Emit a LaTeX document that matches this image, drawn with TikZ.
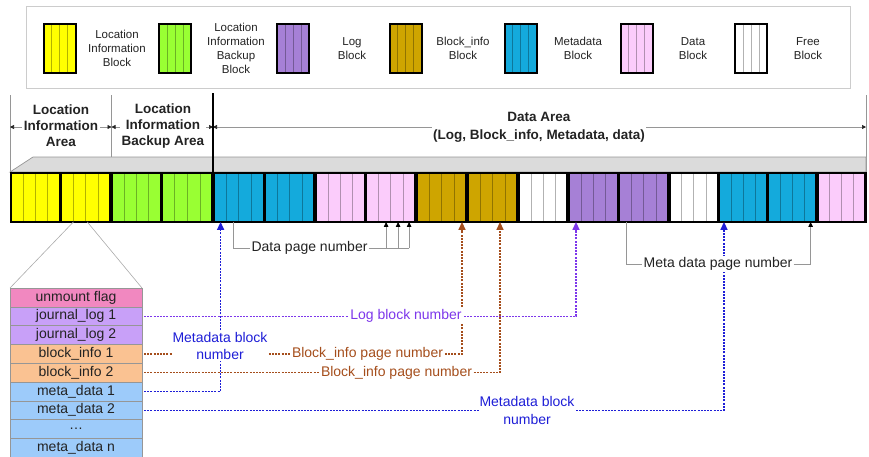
\documentclass[tikz,border=0pt]{standalone}
\usepackage{fontspec}
\setmainfont{Liberation Sans}
\usetikzlibrary{arrows.meta,calc}

% block colours
\definecolor{cYel}{RGB}{255,255,0}
\definecolor{cGrn}{RGB}{153,255,51}
\definecolor{cLog}{RGB}{166,128,214}
\definecolor{cBi}{RGB}{206,165,0}
\definecolor{cMeta}{RGB}{20,170,220}
\definecolor{cData}{RGB}{251,204,251}
\definecolor{cFree}{RGB}{255,255,255}
% table colours
\definecolor{tFlag}{RGB}{241,136,192}
\definecolor{tLog}{RGB}{200,160,248}
\definecolor{tBi}{RGB}{250,194,146}
\definecolor{tMeta}{RGB}{157,203,250}
% line colours
\definecolor{lnGray}{RGB}{150,150,150}
\definecolor{txGray}{RGB}{35,35,35}
\definecolor{lnViolet}{RGB}{125,55,235}
\definecolor{lnBrown}{RGB}{165,78,28}
\definecolor{lnBlue}{RGB}{30,30,215}

\tikzset{
  blk/.style={draw=black, line width=2.2pt, fill=#1, inner sep=0pt, outer sep=0pt,
    path picture={\foreach \k in {1,2,3}{\draw[line width=0.6pt,#1!70!black]
      ($(path picture bounding box.north west)!\k/4!(path picture bounding box.north east)$) --
      ($(path picture bounding box.south west)!\k/4!(path picture bounding box.south east)$);}}},
  lgt/.style={font=\fontsize{11.5}{14}\selectfont, align=center, text=txGray, inner sep=0pt},
  hdt/.style={font=\fontsize{13.5}{16}\selectfont\bfseries, align=center, fill=white,
    inner sep=1.5pt, text=txGray},
  hdr/.style={draw=lnGray, line width=0.7pt,
    {Triangle[length=4pt,width=4pt,color=txGray]}-{Triangle[length=4pt,width=4pt,color=txGray]}},
  row/.style={draw=lnGray, line width=0.6pt, fill=#1, minimum width=132pt,
    minimum height=18.8pt, inner sep=0pt, outer sep=0pt,
    font=\fontsize{14}{16}\selectfont, text=txGray},
  lbl/.style={font=\fontsize{14}{17.5}\selectfont, align=center, inner sep=1pt, fill=white},
  gline/.style={draw=lnGray, line width=0.7pt},
  gtip/.style={-{Triangle[length=5pt,width=4.5pt,color=black]}},
  dline/.style={line width=1.4pt, dash pattern=on 2pt off 1.2pt, shorten <=2pt,
    -{Triangle[length=8pt,width=7pt]}},
}

\begin{document}
\begin{tikzpicture}[x=1pt,y=-1pt]
\useasboundingbox (0,0) rectangle (869,456);

% ---------- legend ----------
\draw[draw=gray!40, line width=0.7pt] (26,6) rectangle (850,88);
\foreach \n/\x/\c/\tx/\t in {
   1/59.5/cYel/117/{Location\\Information\\Block},
   2/175/cGrn/236/{Location\\Information\\Backup\\Block},
   3/293/cLog/352/{Log\\Block},
   4/405.5/cBi/463/{Block\_info\\Block},
   5/520.5/cMeta/578/{Metadata\\Block},
   6/636.5/cData/693/{Data\\Block},
   7/751/cFree/808/{Free\\Block}}{
  \node[blk=\c, line width=2pt, minimum width=32pt, minimum height=49pt] (s\n) at (\x,48) {};
  \node[lgt] (lg\n) at (\tx,48.5) {\t};
}

% ---------- area header ----------
\draw[lnGray, line width=0.7pt] (10,95) -- (10,172);
\draw[lnGray, line width=0.7pt] (111.5,95) -- (111.5,172);
\draw[lnGray, line width=0.7pt] (866,95) -- (866,172);
\draw[hdr] (10,127) -- (111.5,127);
\draw[hdr] (111.5,127) -- (213,127);
\draw[hdr] (213,127) -- (866,127);
\node[hdt] (hA) at (61,126) {Location\\Information\\Area};
\node[hdt] (hB) at (163,126) {Location\\Information\\Backup Area};
\node[hdt, font=\fontsize{13.5}{18}\selectfont\bfseries] (hC) at (539,127)
  {Data Area\\(Log, Block\_info, Metadata, data)};

% top face of the block strip
\filldraw[fill=gray!28, draw=lnGray, line width=0.7pt]
  (10,172) -- (33,157) -- (866,157) -- (866,172) -- cycle;
\draw[line width=2.5pt] (213,93) -- (213,172);

% ---------- block strip ----------
\foreach \n/\l/\r/\c in {
   1/10/60.5/cYel, 2/60.5/111/cYel, 3/111/161.5/cGrn, 4/161.5/213/cGrn,
   5/213/264.5/cMeta, 6/264.5/315/cMeta, 7/315/365.5/cData, 8/365.5/416/cData,
   9/416/467/cBi, 10/467/518/cBi, 11/518/568/cFree, 12/568/618.5/cLog,
   13/618.5/669/cLog, 14/669/718.5/cFree, 15/718.5/767.5/cMeta,
   16/767.5/817/cMeta, 17/817/866/cData}{
  \node[blk=\c, minimum width={\r-\l-1.2}, minimum height=48.8pt] (b\n) at ({(\l+\r)/2},197.5) {};
}

% ---------- location information table ----------
\foreach \n/\c/\t [count=\i] in {
   flag/tFlag/{unmount flag}, j1/tLog/{journal\_log 1}, j2/tLog/{journal\_log 2},
   bi1/tBi/{block\_info 1}, bi2/tBi/{block\_info 2}, m1/tMeta/{meta\_data 1},
   m2/tMeta/{meta\_data 2}, dots/tMeta/{\dots}, mn/tMeta/{meta\_data n}}{
  \node[row=\c] (r\n) at (76,{288+18.8*(\i-0.5)}) {\t};
}
\draw[lnGray!80, line width=0.6pt] ($(b2.south west)!0.25!(b2.south east)$) -- (rflag.north west);
\draw[lnGray!80, line width=0.6pt] ($(b2.south west)!0.53!(b2.south east)$) -- (rflag.north east);

% ---------- arrow targets on the strip ----------
\coordinate (tMB1) at ($(b5.south west)+(7,0)$);
\coordinate (tLog) at ($(b12.south west)+(7.4,0)$);
\coordinate (tBi1) at ($(b9.south east)+(-4.4,0)$);
\coordinate (tBi2) at ($(b10.south west)+(32.4,0)$);
\coordinate (tMB2) at ($(b15.south west)+(4.9,0)$);
\coordinate (tD1) at ($(b8.south west)+(20,0)$);
\coordinate (tD2) at ($(b8.south west)+(32,0)$);
\coordinate (tD3) at ($(b8.south west)+(43,0)$);
\coordinate (tM) at ($(b16.south east)+(-5.8,0)$);
\coordinate (sD) at ($(b5.south west)+(19.4,0)$);
\coordinate (sM) at ($(b13.south west)+(6.9,0)$);

% ---------- pointers from the table ----------
\draw[dline, lnViolet] (rj1.east) -| (tLog);
\draw[dline, lnBrown] (rbi1.east) -| (tBi1);
\draw[dline, lnBrown] (rbi2.east) -| (tBi2);
\draw[dline, lnBlue] (rm1.east) -| (tMB1);
\draw[dline, lnBlue] (rm2.east) -| (tMB2);

% ---------- page number pointers ----------
\node[lbl, text=txGray] (lDP) at (309.5,248) {Data page number};
\draw[gline] (sD) |- (lDP.west);
\draw[gline] (lDP.east) -- (lDP.east -| tD3);
\foreach \t in {tD1,tD2,tD3}{
  \draw[gline, gtip] (lDP.east -| \t) -- (\t);
}
\node[lbl, text=txGray] (lMP) at (718,264) {Meta data page number};
\draw[gline] (sM) |- (lMP.west);
\draw[gline, gtip] (lMP.east) -| (tM);

% ---------- pointer labels ----------
\node[lbl, text=lnViolet] (lLog) at (406,316) {Log block number};
\node[lbl, text=lnBrown] (lBi1) at (367.5,354) {Block\_info page number};
\node[lbl, text=lnBrown] (lBi2) at (396.5,373) {Block\_info page number};
\node[lbl, text=lnBlue] (lMB1) at (220,346) {Metadata block\\number};
\node[lbl, text=lnBlue] (lMB2) at (527,410.5) {Metadata block\\number};
\end{tikzpicture}
\end{document}
